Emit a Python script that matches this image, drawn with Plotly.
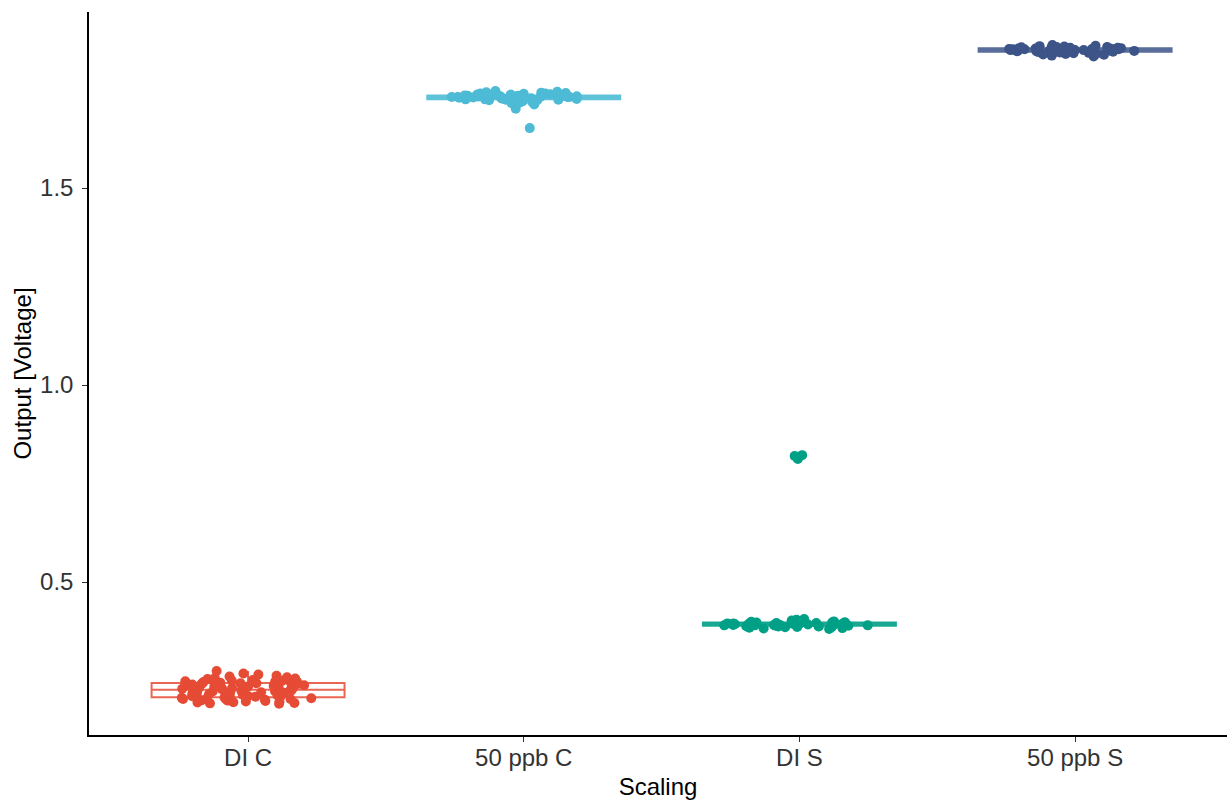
import plotly.graph_objects as go

# Sensor output per scaling condition
categories = ["DI C", "50 ppb C", "DI S", "50 ppb S"]

di_c = [0.274, 0.268, 0.265, 0.262, 0.260, 0.258, 0.256, 0.255, 0.254, 0.252,
        0.251, 0.250, 0.249, 0.249, 0.248, 0.247, 0.247, 0.246, 0.245, 0.244,
        0.243, 0.243, 0.242, 0.241, 0.240, 0.239, 0.238, 0.237, 0.236, 0.235,
        0.234, 0.233, 0.232, 0.231, 0.230, 0.230, 0.229, 0.228, 0.228, 0.227,
        0.226, 0.225, 0.224, 0.223, 0.222, 0.221, 0.220, 0.219, 0.218, 0.217,
        0.216, 0.215, 0.214, 0.213, 0.212, 0.211, 0.210, 0.209, 0.209, 0.208,
        0.207, 0.207, 0.206, 0.205, 0.205, 0.204, 0.203, 0.203, 0.202, 0.201,
        0.200, 0.199, 0.198, 0.197, 0.196, 0.195, 0.194, 0.193, 0.192, 0.191]

ppb50_c = [1.652, 1.701, 1.712, 1.715, 1.717, 1.719, 1.720, 1.721, 1.722, 1.723,
           1.723, 1.724, 1.724, 1.725, 1.725, 1.726, 1.726, 1.727, 1.727, 1.727,
           1.728, 1.728, 1.728, 1.729, 1.729, 1.729, 1.730, 1.730, 1.730, 1.731,
           1.731, 1.731, 1.731, 1.732, 1.732, 1.732, 1.733, 1.733, 1.733, 1.734,
           1.734, 1.734, 1.735, 1.735, 1.736, 1.736, 1.737, 1.737, 1.738, 1.738,
           1.739, 1.740, 1.740, 1.741, 1.742, 1.743, 1.744, 1.746]

di_s = [0.822, 0.820, 0.812,
        0.406, 0.404, 0.402, 0.401, 0.400, 0.400, 0.399, 0.398, 0.398, 0.397,
        0.397, 0.396, 0.396, 0.396, 0.395, 0.395, 0.395, 0.394, 0.394, 0.394,
        0.393, 0.393, 0.393, 0.393, 0.392, 0.392, 0.392, 0.391, 0.391, 0.391,
        0.390, 0.390, 0.390, 0.389, 0.389, 0.388, 0.388, 0.387, 0.387, 0.386,
        0.385, 0.385, 0.384, 0.383, 0.382, 0.381]

ppb50_s = [1.863, 1.861, 1.860, 1.859, 1.858, 1.858, 1.857, 1.857, 1.856, 1.856,
           1.855, 1.855, 1.855, 1.854, 1.854, 1.854, 1.853, 1.853, 1.853, 1.852,
           1.852, 1.852, 1.851, 1.851, 1.851, 1.850, 1.850, 1.850, 1.850, 1.849,
           1.849, 1.849, 1.848, 1.848, 1.848, 1.847, 1.847, 1.846, 1.846, 1.845,
           1.845, 1.844, 1.843, 1.842, 1.841, 1.840, 1.839, 1.838, 1.836, 1.834]

series = [di_c, ppb50_c, di_s, ppb50_s]
colors = ["#E64B35", "#4DBBD5", "#00A087", "#3C5488"]
outline = ["rgba(230,75,53,0.85)", "rgba(77,187,213,0.9)",
           "rgba(0,160,135,0.9)", "rgba(60,84,136,0.85)"]

fig = go.Figure()
for name, vals, col, oc in zip(categories, series, colors, outline):
    fig.add_trace(go.Box(
        x=[name] * len(vals),
        y=vals,
        name=name,
        width=0.7,
        boxpoints="all",
        jitter=0.8,
        pointpos=0,
        fillcolor="rgba(255,255,255,0)",
        line=dict(color=oc, width=2),
        marker=dict(color=col, size=10, opacity=1, line=dict(width=0)),
        whiskerwidth=0,
        hoverinfo="y",
    ))

font_family = "Liberation Sans, Arial, sans-serif"
fig.update_layout(
    width=1227, height=800,
    margin=dict(l=89, r=0, t=12, b=65),
    paper_bgcolor="white",
    plot_bgcolor="white",
    showlegend=False,
    boxmode="overlay",
    font=dict(family=font_family, size=24, color="black"),
    xaxis=dict(
        type="category",
        categoryorder="array",
        categoryarray=categories,
        range=[-0.577, 3.551],
        showline=True, linecolor="black", linewidth=1.5,
        ticks="outside", ticklen=5, tickwidth=1.2, tickcolor="#333333",
        tickfont=dict(size=24, color="#333333"),
        ticklabelstandoff=-5,
        showgrid=False, zeroline=False,
        title=dict(text="Scaling", font=dict(size=24), standoff=9),
    ),
    yaxis=dict(
        range=[0.1117, 1.9467],
        tickvals=[0.5, 1.0, 1.5],
        ticktext=["0.5", "1.0", "1.5"],
        showline=True, linecolor="black", linewidth=1.5,
        ticks="outside", ticklen=5, tickwidth=1.2, tickcolor="#333333",
        tickfont=dict(size=24, color="#333333"),
        ticklabelstandoff=4,
        showgrid=False, zeroline=False,
        title=dict(text="Output [Voltage]", font=dict(size=24), standoff=2),
    ),
)

fig.write_html("out.html")
